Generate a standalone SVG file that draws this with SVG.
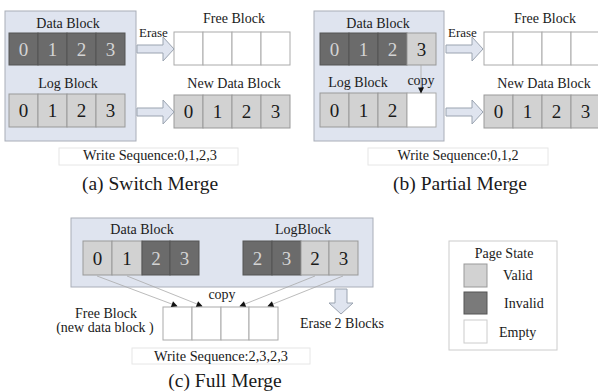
<svg xmlns="http://www.w3.org/2000/svg" width="598" height="392" viewBox="0 0 598 392">
<style>
text{font-family:'Liberation Serif','Times New Roman',serif;fill:#1a1a1a}
.panel{fill:#dfe4ef;stroke:#a9aeb8;stroke-width:1}
.dk{fill:#6b6b6b;stroke:#555;stroke-width:1}
.lt{fill:#d2d2d2;stroke:#999;stroke-width:1}
.em{fill:#fff;stroke:#aaa;stroke-width:1}
.lbl{font-size:14px;text-anchor:middle}
.dg{font-size:19px;text-anchor:middle}
.dgw{font-size:19px;text-anchor:middle;fill:#d4d4d4}
.seqbox{fill:#fff;stroke:#e6e6e6;stroke-width:1}
.seq{font-size:14px;text-anchor:middle}
.cap{font-size:19.5px;text-anchor:middle}
.fat{fill:#dfe4ef;stroke:#9aa3b0;stroke-width:1}
.cl{stroke:#aaa;stroke-width:0.8;fill:none;marker-end:url(#ah)}
</style>
<defs>
<marker id="ah" viewBox="0 0 10 10" refX="9" refY="5" markerWidth="7" markerHeight="6" orient="auto" markerUnits="userSpaceOnUse"><path d="M0,0 L10,5 L0,10 z" fill="#111"/></marker>
</defs>

<!-- (a) Switch Merge -->
<g id="a-panel">
<rect class="panel" x="5" y="11" width="131" height="130"/>
<text class="lbl" x="68" y="28">Data Block</text>
<rect class="dk" x="9" y="33" width="29" height="32"/><rect class="dk" x="38" y="33" width="29" height="32"/><rect class="dk" x="67" y="33" width="29" height="32"/><rect class="dk" x="96" y="33" width="29" height="32"/>
<text class="dgw" x="23.5" y="56">0</text><text class="dgw" x="52.5" y="56">1</text><text class="dgw" x="81.5" y="56">2</text><text class="dgw" x="110.5" y="56">3</text>
<text class="lbl" x="68" y="88">Log Block</text>
<rect class="lt" x="9" y="94" width="29" height="33"/><rect class="lt" x="38" y="94" width="29" height="33"/><rect class="lt" x="67" y="94" width="29" height="33"/><rect class="lt" x="96" y="94" width="29" height="33"/>
<text class="dg" x="23.5" y="117">0</text><text class="dg" x="52.5" y="117">1</text><text class="dg" x="81.5" y="117">2</text><text class="dg" x="110.5" y="117">3</text>
</g>
<g id="a-free">
<text class="lbl" x="234" y="23">Free Block</text>
<rect class="em" x="174" y="32" width="29" height="33"/><rect class="em" x="203" y="32" width="29" height="33"/><rect class="em" x="232" y="32" width="29" height="33"/><rect class="em" x="261" y="32" width="29" height="33"/>
</g>
<g id="a-new">
<text class="lbl" x="234" y="88">New Data Block</text>
<rect class="lt" x="174" y="95" width="29" height="33"/><rect class="lt" x="203" y="95" width="29" height="33"/><rect class="lt" x="232" y="95" width="29" height="33"/><rect class="lt" x="261" y="95" width="29" height="33"/>
<text class="dg" x="188.5" y="118">0</text><text class="dg" x="217.5" y="118">1</text><text class="dg" x="246.5" y="118">2</text><text class="dg" x="275.5" y="118">3</text>
</g>
<g id="a-caption">
<rect class="seqbox" x="59" y="148" width="179" height="17"/>
<text class="seq" x="150" y="160" textLength="134" lengthAdjust="spacingAndGlyphs">Write Sequence:0,1,2,3</text>
<text class="cap" x="150" y="190">(a) Switch Merge</text>
</g>

<!-- (b) Partial Merge -->
<g id="b-panel">
<rect class="panel" x="314" y="11" width="130" height="130"/>
<text class="lbl" x="378" y="28">Data Block</text>
<rect class="dk" x="320" y="33" width="29" height="32"/><rect class="dk" x="349" y="33" width="29" height="32"/><rect class="dk" x="378" y="33" width="29" height="32"/><rect class="lt" x="407" y="33" width="29" height="32"/>
<text class="dgw" x="334.5" y="56">0</text><text class="dgw" x="363.5" y="56">1</text><text class="dgw" x="392.5" y="56">2</text><text class="dg" x="421.5" y="56">3</text>
<text class="lbl" x="358" y="87">Log Block</text>
<text class="lbl" x="421" y="85">copy</text>
<rect class="lt" x="320" y="93" width="29" height="34"/><rect class="lt" x="349" y="93" width="29" height="34"/><rect class="lt" x="378" y="93" width="29" height="34"/><rect class="em" x="407" y="93" width="29" height="34"/>
<text class="dg" x="334.5" y="117">0</text><text class="dg" x="363.5" y="117">1</text><text class="dg" x="392.5" y="117">2</text>
</g>
<g id="b-free">
<text class="lbl" x="545" y="23">Free Block</text>
<rect class="em" x="484" y="32" width="29" height="33"/><rect class="em" x="513" y="32" width="29" height="33"/><rect class="em" x="542" y="32" width="29" height="33"/><rect class="em" x="571" y="32" width="29" height="33"/>
</g>
<g id="b-new">
<text class="lbl" x="544" y="88">New Data Block</text>
<rect class="lt" x="484" y="95" width="29" height="33"/><rect class="lt" x="513" y="95" width="29" height="33"/><rect class="lt" x="542" y="95" width="29" height="33"/><rect class="lt" x="571" y="95" width="29" height="33"/>
<text class="dg" x="498.5" y="118">0</text><text class="dg" x="527.5" y="118">1</text><text class="dg" x="556.5" y="118">2</text><text class="dg" x="585.5" y="118">3</text>
</g>
<g id="b-caption">
<rect class="seqbox" x="368" y="148" width="180" height="17"/>
<text class="seq" x="458" y="160" textLength="121" lengthAdjust="spacingAndGlyphs">Write Sequence:0,1,2</text>
<text class="cap" x="460" y="190">(b) Partial Merge</text>
</g>

<!-- (c) Full Merge -->
<g id="c-panel">
<rect class="panel" x="71" y="218" width="302" height="69"/>
<text class="lbl" x="142" y="234">Data Block</text>
<rect class="lt" x="83" y="241" width="29" height="34"/><rect class="lt" x="112" y="241" width="30" height="34"/><rect class="dk" x="142" y="241" width="28" height="34"/><rect class="dk" x="170" y="241" width="29" height="34"/>
<text class="dg" x="97.5" y="265">0</text><text class="dg" x="127" y="265">1</text><text class="dgw" x="156" y="265">2</text><text class="dgw" x="184.5" y="265">3</text>
<text class="lbl" x="303" y="234">LogBlock</text>
<rect class="dk" x="243" y="241" width="29" height="34"/><rect class="dk" x="272" y="241" width="29" height="34"/><rect class="lt" x="301" y="241" width="28" height="34"/><rect class="lt" x="329" y="241" width="29" height="34"/>
<text class="dgw" x="257.5" y="265">2</text><text class="dgw" x="286.5" y="265">3</text><text class="dg" x="315" y="265">2</text><text class="dg" x="343.5" y="265">3</text>
</g>
<g id="c-free">
<rect class="em" x="163" y="307" width="29" height="33"/><rect class="em" x="192" y="307" width="29" height="33"/><rect class="em" x="221" y="307" width="28" height="33"/><rect class="em" x="249" y="307" width="29" height="33"/>
<text class="lbl" x="106" y="318">Free Block</text>
<text class="lbl" x="105" y="332">(new data block )</text>
<text class="lbl" x="222" y="299">copy</text>
</g>
<g id="c-erase">
<text class="lbl" x="342" y="328">Erase 2 Blocks</text>
</g>
<g id="c-caption">
<rect class="seqbox" x="132" y="348" width="178" height="16"/>
<text class="seq" x="221" y="361" textLength="134" lengthAdjust="spacingAndGlyphs">Write Sequence:2,3,2,3</text>
<text class="cap" x="225" y="387">(c) Full Merge</text>
</g>

<!-- Legend -->
<g id="legend">
<rect x="449" y="241" width="108" height="109" fill="#fff" stroke="#ccc"/>
<text class="lbl" x="504" y="258">Page State</text>
<rect class="lt" x="464" y="264" width="23" height="23"/>
<rect x="464" y="292" width="23" height="22" fill="#7a7a7a" stroke="#555"/>
<rect x="464" y="320" width="23" height="23" fill="#fff" stroke="#ccc"/>
<text x="503" y="280" font-size="14">Valid</text>
<text x="504" y="308" font-size="14">Invalid</text>
<text x="499" y="337" font-size="14">Empty</text>
</g>

<!-- Connectors -->
<g id="connectors">
<path class="fat" d="M137,45 H163 V37 L174,49 L163,61 V53 H137 Z"/>
<text x="139" y="37" font-size="13">Erase</text>
<path class="fat" d="M137,108 H163 V100 L174,112 L163,124 V116 H137 Z"/>
<path class="fat" d="M446,45 H472 V37 L483,49 L472,61 V53 H446 Z"/>
<text x="448" y="37" font-size="13">Erase</text>
<path class="fat" d="M446,108 H472 V100 L483,112 L472,124 V116 H446 Z"/>
<line class="cl" x1="421" y1="65" x2="421" y2="93"/>
<line class="cl" x1="97" y1="276" x2="177" y2="306"/>
<line class="cl" x1="127" y1="276" x2="202" y2="306"/>
<line class="cl" x1="315" y1="276" x2="240" y2="306"/>
<line class="cl" x1="343" y1="276" x2="268" y2="306"/>
<path class="fat" d="M335,289 H347 V303 H353 L341,314 L329,303 H335 Z"/>
</g>
</svg>
